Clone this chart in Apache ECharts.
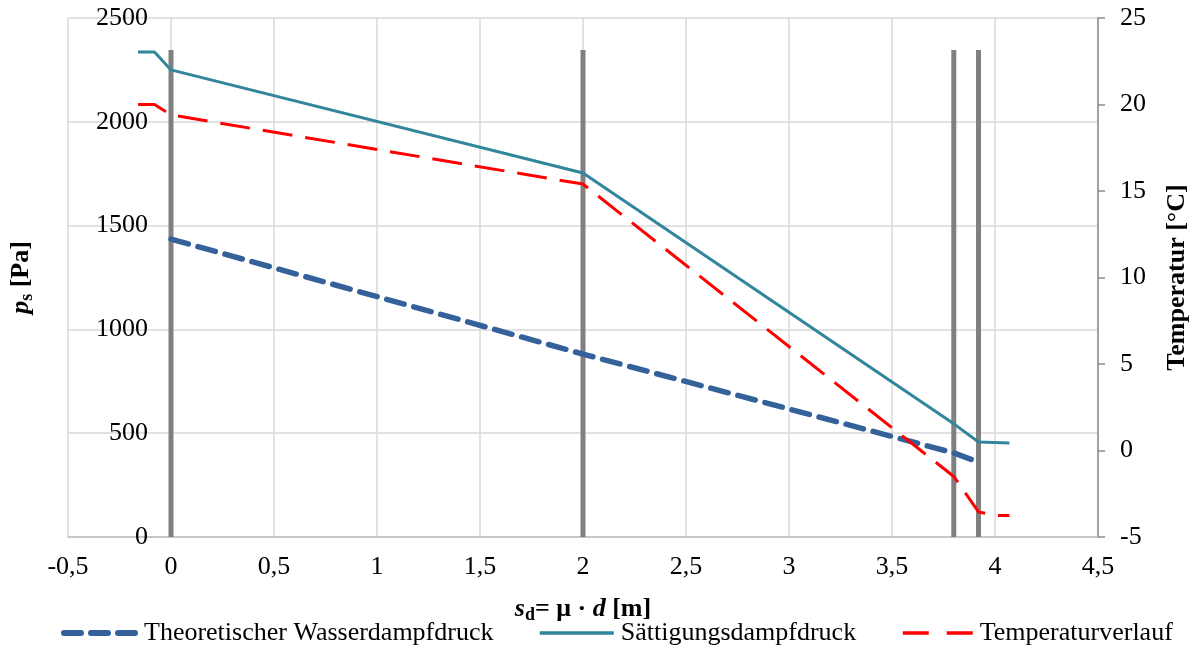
<!DOCTYPE html>
<html><head><meta charset="utf-8">
<script src="https://cdn.jsdelivr.net/npm/echarts@6/dist/echarts.min.js"></script>
<style>html,body{margin:0;padding:0;background:#fff}#c{width:1197px;height:649px}</style>
</head><body><div id="c"></div>
<script>
var xTicks = ['-0,5','0','0,5','1','1,5','2','2,5','3','3,5','4','4,5'];
var satX = [-0.16, -0.08, 0, 2, 3.8, 3.92, 4.07];
var satP = [2336, 2336, 2250, 1753, 545, 458, 453];
var vapX = [0, 2, 3.8, 3.92];
var vapP = [1435, 881, 405, 361];
var tempX = [-0.16, -0.08, 0, 2, 3.8, 3.92, 4.0, 4.07];
var tempC = [20, 20, 19.4, 15.4, -1.5, -3.55, -3.75, -3.75];
var layerX = [0, 2, 3.8, 3.92];
var layerTop = 2346;

var FONT = 'Liberation Serif';
var FS = 26;
function zip(xs, ys){ return xs.map(function(x,i){ return [x, ys[i]]; }); }
var layerData = [];
layerX.forEach(function(x,i){ if(i) layerData.push([x, null]); layerData.push([x,0]); layerData.push([x,layerTop]); });

var chart = echarts.init(document.getElementById('c'));
chart.setOption({
  animation:false,
  textStyle:{fontFamily:FONT},
  grid:{left:68, right:99, top:18, bottom:112, containLabel:false, outerBoundsMode:'none'},
  xAxis:{type:'value', min:-0.5, max:4.5, interval:0.5,
    axisLine:{show:true, onZero:false, lineStyle:{color:'#bfbfbf', width:1.5}},
    axisTick:{show:false},
    splitLine:{show:true, lineStyle:{color:'#d9d9d9', width:1.5}},
    axisLabel:{fontFamily:FONT, fontSize:FS, color:'#000', margin:17,
      formatter:function(v){ var i = Math.round((v+0.5)*2); return xTicks[i] || ''; }},
    name:'{si|s}{sub|d}{b|= μ · }{si|d}{b| [m]}', nameLocation:'middle', nameGap:57,
    nameTextStyle:{rich:{
      si:{fontFamily:FONT,fontSize:FS,fontWeight:'bold',fontStyle:'italic',color:'#000'},
      sub:{fontFamily:FONT,fontSize:18,fontWeight:'bold',color:'#000',verticalAlign:'bottom',padding:[12,0,0,0]},
      b:{fontFamily:FONT,fontSize:FS,fontWeight:'bold',color:'#000'}}}
  },
  yAxis:[
    {type:'value', min:0, max:2500, interval:500,
     axisLine:{show:false}, axisTick:{show:false},
     splitLine:{show:true, lineStyle:{color:'#d9d9d9', width:1.5}},
     axisLabel:{fontFamily:FONT, fontSize:FS, color:'#000', margin:-80, formatter:function(v){return String(v);}},
     name:'{pi|p}{sub|s}{b| [Pa]}', nameLocation:'middle', nameGap:32, nameRotate:90,
     nameTextStyle:{rich:{
       pi:{fontFamily:FONT,fontSize:FS,fontWeight:'bold',fontStyle:'italic',color:'#000'},
       sub:{fontFamily:FONT,fontSize:18,fontWeight:'bold',color:'#000',verticalAlign:'bottom',padding:[12,0,0,0]},
       b:{fontFamily:FONT,fontSize:FS,fontWeight:'bold',color:'#000'}}}
    },
    {type:'value', min:-5, max:25, interval:5, position:'right',
     axisLine:{show:true, onZero:false, lineStyle:{color:'#8c8c8c', width:1.5}},
     axisTick:{show:true, inside:false, length:7, lineStyle:{color:'#8c8c8c', width:1.5}},
     splitLine:{show:false},
     axisLabel:{fontFamily:FONT, fontSize:FS, color:'#000', margin:22, formatter:function(v){return String(v);}},
     name:'Temperatur [°C]', nameLocation:'middle', nameGap:66, nameRotate:90,
     nameTextStyle:{fontFamily:FONT, fontSize:FS, fontWeight:'bold', color:'#000'}
    }
  ],
  legend:[
    {data:['Theoretischer Wasserdampfdruck'], left:61, top:620, padding:0, itemWidth:73, itemHeight:14,
     itemStyle:{opacity:0}, lineStyle:{width:6, type:[17,10], cap:'round'},
     textStyle:{fontFamily:FONT,fontSize:FS,color:'#000', padding:[0,0,0,2]}},
    {data:['Sättigungsdampfdruck'], left:538, top:620, padding:0, itemWidth:74, itemHeight:14,
     itemStyle:{opacity:0}, lineStyle:{width:3.5},
     textStyle:{fontFamily:FONT,fontSize:FS,color:'#000', padding:[0,0,0,2]}},
    {data:['Temperaturverlauf'], left:901, top:620, padding:0, itemWidth:70, itemHeight:14,
     itemStyle:{opacity:0}, lineStyle:{width:3.5, type:[26,18]},
     textStyle:{fontFamily:FONT,fontSize:FS,color:'#000', padding:[0,0,0,2]}}
  ],
  series:[
    {name:'Schichtgrenzen', type:'line', yAxisIndex:0, data:layerData, symbol:'none', connectNulls:false,
     lineStyle:{color:'#808080', width:5}, z:2, silent:true},
    {name:'Theoretischer Wasserdampfdruck', type:'line', yAxisIndex:0, data:zip(vapX,vapP), symbol:'none',
     lineStyle:{color:'#34619a', width:5.5, type:[18,10], cap:'round'}, itemStyle:{color:'#34619a'}, z:4},
    {name:'Sättigungsdampfdruck', type:'line', yAxisIndex:0, data:zip(satX,satP), symbol:'none',
     lineStyle:{color:'#31859c', width:3}, itemStyle:{color:'#31859c'}, z:4},
    {name:'Temperaturverlauf', type:'line', yAxisIndex:1, data:zip(tempX,tempC), symbol:'none',
     lineStyle:{color:'#ff0000', width:3, type:[30,13]}, itemStyle:{color:'#ff0000'}, z:4}
  ]
});
</script></body></html>
